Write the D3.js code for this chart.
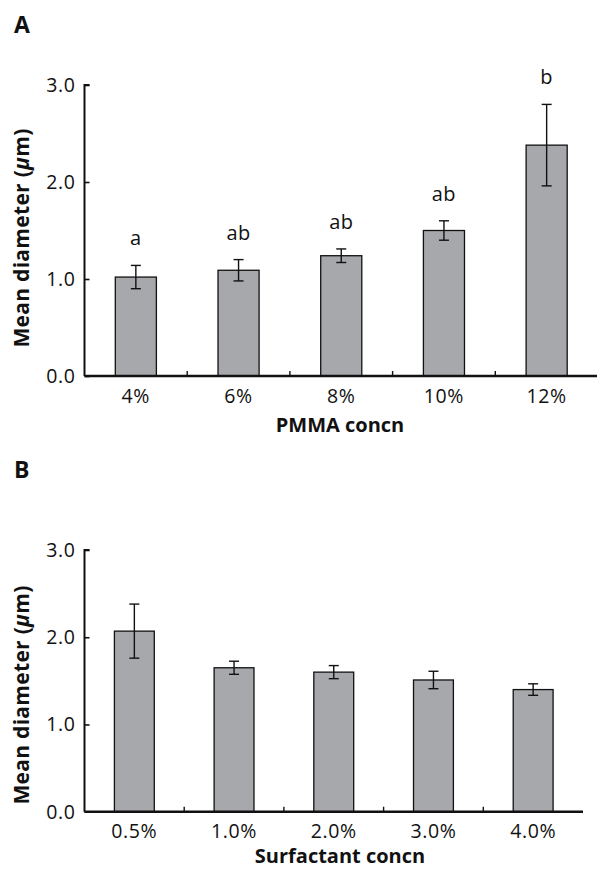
<!DOCTYPE html>
<html>
<head>
<meta charset="utf-8">
<script src="https://cdn.jsdelivr.net/npm/d3@7"></script>
<style>
  body { margin: 0; background: #fff; }
  text { font-family: "Open Sans", "Noto Sans", sans-serif; fill: #111; }
</style>
</head>
<body>
<div id="chart"></div>
<script>
// panel A: PMMA concentration
const pmmaCats = ['4%', '6%', '8%', '10%', '12%'];
const pmmaMeans = [1.02, 1.09, 1.24, 1.50, 2.38];
const pmmaErr = [0.12, 0.11, 0.07, 0.10, 0.42];
const pmmaLetters = ['a', 'ab', 'ab', 'ab', 'b'];

// panel B: surfactant concentration
const surfCats = ['0.5%', '1.0%', '2.0%', '3.0%', '4.0%'];
const surfMeans = [2.07, 1.65, 1.60, 1.51, 1.40];
const surfErr = [0.31, 0.075, 0.075, 0.10, 0.066];

const yTicks = [0, 1, 2, 3];

const width = 597, height = 869;
const svg = d3.select('#chart').append('svg')
    .attr('width', width)
    .attr('height', height);

function drawPanel(opts) {
    const { cats, means, errs, letters, label, xTitle, left, right, top, bottom, labelY, yTitleY, xTitleY } = opts;

    const x = d3.scaleBand().domain(cats).range([left, right]).paddingInner(0).paddingOuter(0);
    const y = d3.scaleLinear().domain([0, 3]).range([bottom, top]);
    const barW = x.bandwidth() * 0.4;

    const data = cats.map((c, i) => ({ cat: c, mean: means[i], err: errs[i], letter: letters ? letters[i] : null }));

    const g = svg.append('g');

    // bars
    g.selectAll('rect.bar')
        .data(data)
        .enter()
        .append('rect')
        .attr('class', 'bar')
        .attr('x', d => x(d.cat) + x.bandwidth() / 2 - barW / 2)
        .attr('y', d => y(d.mean))
        .attr('width', barW)
        .attr('height', d => y(0) - y(d.mean))
        .attr('fill', '#a7a8ab')
        .attr('stroke', '#111')
        .attr('stroke-width', 1.3);

    // error bars
    const eb = g.selectAll('g.err')
        .data(data)
        .enter()
        .append('g')
        .attr('class', 'err')
        .attr('stroke', '#111')
        .attr('stroke-width', 1.4);
    const cx = d => x(d.cat) + x.bandwidth() / 2;
    eb.append('line')
        .attr('x1', cx).attr('x2', cx)
        .attr('y1', d => y(d.mean + d.err))
        .attr('y2', d => y(d.mean - d.err));
    eb.append('line')
        .attr('x1', d => cx(d) - 5).attr('x2', d => cx(d) + 5)
        .attr('y1', d => y(d.mean + d.err)).attr('y2', d => y(d.mean + d.err));
    eb.append('line')
        .attr('x1', d => cx(d) - 5).attr('x2', d => cx(d) + 5)
        .attr('y1', d => y(d.mean - d.err)).attr('y2', d => y(d.mean - d.err));

    // significance letters
    if (letters) {
        g.selectAll('text.letter')
            .data(data)
            .enter()
            .append('text')
            .attr('class', 'letter')
            .attr('x', cx)
            .attr('y', d => y(d.mean + d.err) - 20)
            .attr('text-anchor', 'middle')
            .attr('font-size', 20)
            .attr('letter-spacing', 0.4)
            .text(d => d.letter);
    }

    // y axis
    const yAxis = g.append('g')
        .attr('transform', `translate(${left},0)`)
        .call(d3.axisRight(y).tickValues(yTicks).tickSize(5).tickFormat(''));
    yAxis.select('.domain').attr('stroke', '#111').attr('stroke-width', 2).attr('d', `M5,${top}H0V${bottom}`);
    yAxis.selectAll('.tick line').attr('stroke', '#111').attr('stroke-width', 1.6);
    g.selectAll('text.ytick')
        .data(yTicks)
        .enter()
        .append('text')
        .attr('class', 'ytick')
        .attr('x', left - 9)
        .attr('y', d => y(d) + 7)
        .attr('text-anchor', 'end')
        .attr('font-size', 19.5)
        .attr('letter-spacing', 0.6)
        .text(d => d.toFixed(1));

    // x axis: ticks sit between categories
    const xAxis = g.append('g')
        .attr('transform', `translate(0,${bottom})`)
        .call(d3.axisTop(x).tickSize(0).tickFormat(''));
    xAxis.selectAll('.tick').remove();
    xAxis.select('.domain').attr('stroke', '#111').attr('stroke-width', 2.5).attr('d', `M${left},0H${right}`);
    xAxis.selectAll('line.sep')
        .data(cats.slice(1))
        .enter()
        .append('line')
        .attr('class', 'sep')
        .attr('x1', d => x(d)).attr('x2', d => x(d))
        .attr('y1', 0).attr('y2', -5)
        .attr('stroke', '#111')
        .attr('stroke-width', 1.4);

    g.selectAll('text.xtick')
        .data(cats)
        .enter()
        .append('text')
        .attr('class', 'xtick')
        .attr('x', d => x(d) + x.bandwidth() / 2)
        .attr('y', labelY)
        .attr('text-anchor', 'middle')
        .attr('font-size', 19.5)
        .attr('letter-spacing', 0.6)
        .text(d => d);

    // axis titles
    g.append('text')
        .attr('x', 340)
        .attr('y', xTitleY)
        .attr('text-anchor', 'middle')
        .attr('font-size', 20)
        .attr('font-weight', 'bold')
        .text(xTitle);

    const yt = g.append('text')
        .attr('transform', `translate(29,${yTitleY}) rotate(-90)`)
        .attr('text-anchor', 'middle')
        .attr('font-size', 21)
        .attr('letter-spacing', 0.3)
        .attr('font-weight', 'bold');
    yt.append('tspan').text('Mean diameter (');
    yt.append('tspan').attr('font-style', 'italic').text('μ');
    yt.append('tspan').text('m)');

    // panel letter
    svg.append('text')
        .attr('x', 14)
        .attr('y', opts.panelY)
        .attr('font-size', 23)
        .attr('font-weight', 'bold')
        .text(label);
}

drawPanel({
    cats: pmmaCats, means: pmmaMeans, errs: pmmaErr, letters: pmmaLetters,
    label: 'A', panelY: 33, xTitle: 'PMMA concn',
    left: 84.5, right: 598, top: 85, bottom: 376,
    labelY: 403, yTitleY: 238, xTitleY: 432
});

drawPanel({
    cats: surfCats, means: surfMeans, errs: surfErr, letters: null,
    label: 'B', panelY: 478, xTitle: 'Surfactant concn',
    left: 84.5, right: 583, top: 550, bottom: 811.7,
    labelY: 838, yTitleY: 695, xTitleY: 863
});
</script>
</body>
</html>
